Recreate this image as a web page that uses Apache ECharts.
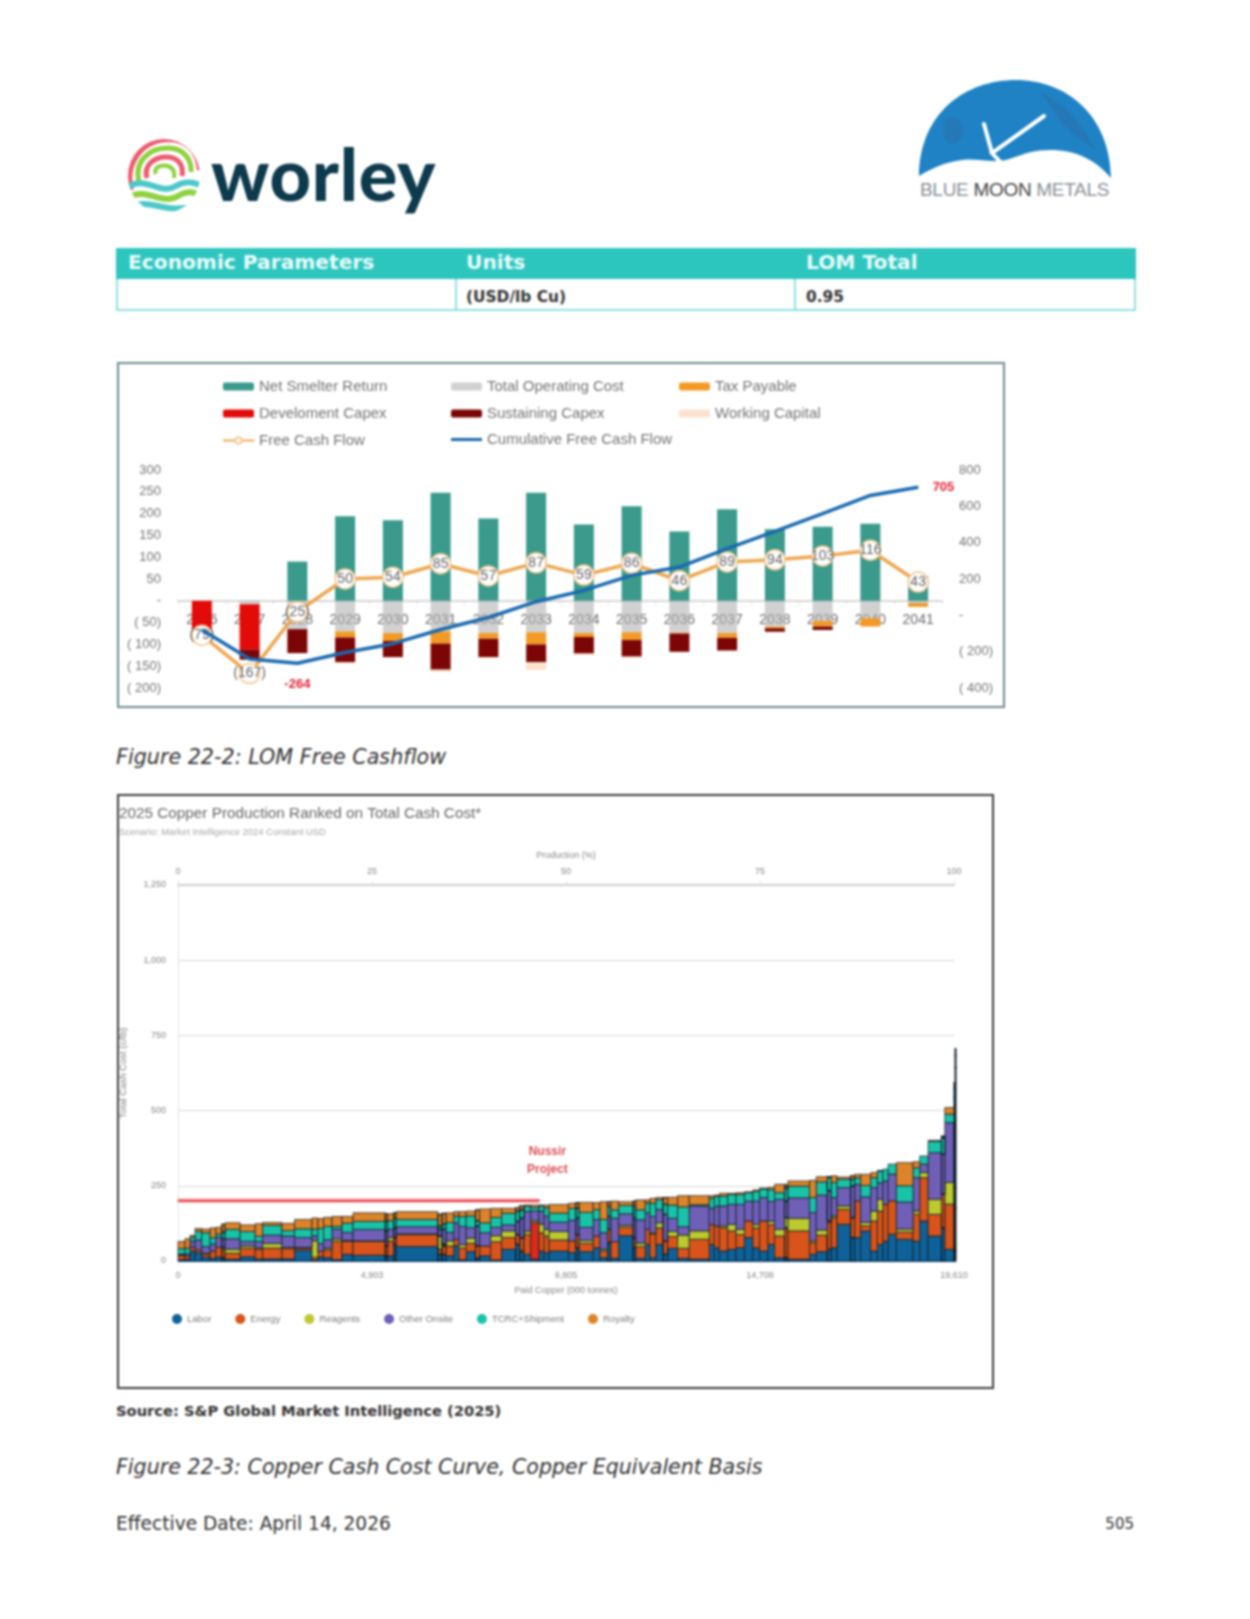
<!DOCTYPE html>
<html><head><meta charset="utf-8">
<script src="https://cdn.jsdelivr.net/npm/echarts@6/dist/echarts.min.js"></script>
<style>
html,body{margin:0;padding:0;background:#fff}
#page{position:relative;width:1250px;height:1619px;background:#fff;overflow:hidden;filter:blur(.8px);font-family:"DejaVu Sans",sans-serif}
#main{position:absolute;left:0;top:0;width:1250px;height:1619px}
.t{position:absolute;white-space:nowrap;line-height:1}
.frame{position:absolute;box-sizing:border-box}
svg{position:absolute;left:0;top:0}
.cell{position:absolute;box-sizing:border-box}
</style></head><body><div id="page">
<svg width="1250" height="330" viewBox="0 0 1250 330">
 <defs><clipPath id="g"><ellipse cx="164" cy="176" rx="36" ry="37"/></clipPath></defs>
 <g clip-path="url(#g)" fill="none">
  <rect x="120" y="130" width="90" height="90" fill="#fff" stroke="none"/>
  <path d="M131 190C124 165 140 140 168 139C188 139 198 152 200 170" stroke="#ee5a6e" stroke-width="6"/>
  <path d="M139 182C134 162 148 148 168 148C184 148 192 160 191 172" stroke="#8ed13f" stroke-width="5"/>
  <path d="M147 178C143 165 155 156 168 157C179 158 184 166 182 176" stroke="#ee5a6e" stroke-width="5"/>
  <path d="M156 174C153 168 160 164 168 166C174 168 175 173 174 178" stroke="#8ed13f" stroke-width="4"/>
  <path d="M126 188C145 174 160 196 176 186C186 180 194 182 202 186" stroke="#4cc7c9" stroke-width="6"/>
  <path d="M128 198C146 186 162 206 178 196C188 190 194 192 202 196" stroke="#8ed13f" stroke-width="6"/>
  <path d="M130 208C150 196 164 216 196 205" stroke="#4cc7c9" stroke-width="6"/>
 </g>
 <path d="M919 176C920 112 966 80 1016 80C1066 80 1110 115 1111 178C1096 160 1076 150 1050 150C1030 150 1020 156 1006 160C990 163 978 158 962 160C946 162 932 168 919 176Z" fill="#1f82c4"/>
 <path d="M1040 92C1060 100 1085 125 1095 150C1075 135 1060 125 1055 112ZM945 120C958 112 968 125 960 140C950 150 940 140 945 120Z" fill="#2a72ad" opacity=".6"/>
 <path d="M1044 116L992 153L1006 168M992 153L984 124" fill="none" stroke="#fff" stroke-width="4" stroke-linecap="round"/>
</svg>
<div class="t" style="left:211px;top:137px;font-family:Lato;font-weight:900;font-size:72px;color:#0d3a4c;letter-spacing:.8px">worley</div>
<div class="t" style="left:920px;top:180px;font-family:'Liberation Sans';font-size:19px;color:#8a8f94;letter-spacing:-.3px">BLUE <span style="color:#444">MOON</span> METALS</div>

<div class="cell" style="left:116px;top:248px;width:1020px;height:31px;background:#2dc6bf"></div>
<div class="cell" style="left:116px;top:279px;width:1020px;height:32px;border:2px solid #8fe0dc;border-top:0"></div>
<div class="cell" style="left:455px;top:279px;width:2px;height:32px;background:#8fe0dc"></div>
<div class="cell" style="left:794px;top:279px;width:2px;height:32px;background:#8fe0dc"></div>
<div class="t" style="left:128px;top:252px;font-weight:700;font-size:20.2px;color:#e9fbfa">Economic Parameters</div>
<div class="t" style="left:466px;top:252px;font-weight:700;font-size:20.2px;color:#e9fbfa">Units</div>
<div class="t" style="left:806px;top:252px;font-weight:700;font-size:20.2px;color:#e9fbfa">LOM Total</div>
<div class="t" style="left:466px;top:290px;font-weight:700;font-size:15.4px;color:#333">(USD/lb Cu)</div>
<div class="t" style="left:806px;top:290px;font-weight:700;font-size:15.4px;color:#333">0.95</div>

<div class="frame" style="left:117px;top:362px;width:888px;height:346px;border:2px solid #6d8b92"></div>
<div class="frame" style="left:117px;top:794px;width:877px;height:595px;border:2px solid #3c3c3c"></div>

<div class="t" style="left:116px;top:747px;font-style:italic;font-size:20.7px;color:#333">Figure 22-2: LOM Free Cashflow</div>
<div class="t" style="left:116px;top:1404px;font-weight:700;font-size:14.7px;color:#333">Source: S&amp;P Global Market Intelligence (2025)</div>
<div class="t" style="left:116px;top:1457px;font-style:italic;font-size:20.6px;color:#333">Figure 22-3: Copper Cash Cost Curve, Copper Equivalent Basis</div>
<div class="t" style="left:116px;top:1515px;font-size:18.6px;color:#333">Effective Date: April 14, 2026</div>
<div class="t" style="right:116px;top:1517px;font-size:15px;color:#333">505</div>
<div id="main"></div>
</div>
<script>
/* Figure 22-2 */
const years = ['2026','2027','2028','2029','2030','2031','2032','2033','2034','2035','2036','2037','2038','2039','2040','2041'];
const netSmelterReturn = [0,0,90,194,185,248,189,248,175,217,159,210,164,170,177,57];
const totalOperatingCost = [0,-8,-65,-70,-74,-70,-74,-72,-74,-72,-73,-74,-59,-46,-40,-5];
const taxPayable = [0,0,0,-14,-18,-28,-13,-28,-9,-18,-2,-11,-4,-13,-19,-9];
const developmentCapex = [-70,-104,0,0,0,0,0,0,0,0,0,0,0,0,0,0];
const sustainingCapex = [0,-23,-55,-57,-37,-60,-42,-41,-38,-38,-42,-29,-8,-8,0,0];
const workingCapital = [0,0,0,-3,-2,-5,-3,-18,-3,-3,0,0,0,0,0,0];
const freeCashFlow = [-79,-167,-25,50,54,85,57,87,59,86,46,89,94,103,116,43];
const cumulativeFreeCashFlow = [-79,-240,-264,-205,-156,-78,-12,75,137,220,266,367,462,560,660,705];
const cumulativeLabels = ['','','-264','','','','','','','','','','','','','705'];

/* Figure 22-3: one entry per mine block, left to right */
const blockWidthPct = [.90,.65,.65,.86,1.08,.73,.77,.43,1.94,1.94,.95,2.49,1.63,2.24,.77,.73,1.08,1.29,1.42,4.17,
 .30,.77,.34,5.38,.52,.52,.99,.65,.95,1.20,.52,1.42,1.42,1.81,.52,.56,.86,1.08,.65,.65,2.49,.95,.43,
 1.81,.86,.99,.43,.99,1.89,.34,1.20,.60,.77,.95,.56,1.29,1.50,2.58,.65,.65,1.08,1.08,1.08,1.08,.86,1.08,.86,1.29,
 .43,2.79,.86,1.42,.52,.73,1.76,.52,.77,1.29,.86,.73,.65,1.08,2.15,.86,1.08,1.72,.43,1.20,.13,.09];
const labor = [4,6,33,28,13,9,13,11,6,14,6,7,7,36,3,14,11,4,22,19,
 17,17,55,48,22,22,17,50,4,31,9,17,3,39,55,33,22,6,33,28,33,28,44,
 31,44,11,61,9,84,44,9,55,11,55,22,42,9,6,55,44,33,39,44,78,44,33,55,11,
 11,6,22,31,39,44,122,78,78,100,33,55,66,89,72,66,133,83,111,39,33,33];
const energy = [14,11,13,9,9,24,33,28,20,28,33,36,34,7,9,18,26,61,43,46,
 33,50,22,40,17,28,33,22,39,28,42,33,61,39,33,44,66,122,61,55,37,39,44,
 28,39,22,44,55,28,33,39,50,78,55,44,39,33,66,66,72,78,61,44,55,66,100,66,72,
 100,94,39,55,89,100,50,66,122,17,100,111,122,111,24,89,144,72,111,150,144,144];
const reagents = [2,0,0,0,4,0,0,7,13,8,4,15,4,2,55,0,6,8,3,2,
 0,11,0,2,44,6,17,0,11,17,0,0,20,22,0,0,11,6,28,22,28,0,0,
 9,0,6,0,0,6,0,11,0,4,17,0,17,44,28,0,0,6,22,17,0,11,0,11,22,
 33,42,6,17,6,6,11,0,0,11,33,39,0,0,10,11,17,50,0,72,66,66];
const otherOnsite = [3,7,20,33,22,24,33,28,35,15,22,28,38,33,17,26,28,33,27,38,
 50,28,33,24,22,50,28,55,61,35,66,44,28,20,44,66,66,33,44,44,31,69,55,
 44,55,55,44,78,39,66,78,55,55,44,89,44,28,83,55,66,66,66,83,66,78,78,66,100,
 55,68,94,116,100,61,61,105,55,85,78,55,78,89,90,111,28,155,133,199,300,400];
const tcrcShipment = [18,18,13,29,46,20,11,22,31,33,17,33,18,29,22,50,44,9,31,27,
 33,28,33,24,11,17,33,22,33,39,17,33,33,39,33,28,17,11,17,28,30,39,33,
 50,33,44,33,28,28,39,33,33,44,33,33,44,66,4,33,33,33,33,33,28,33,28,39,22,
 44,39,50,44,44,50,28,22,22,38,33,39,39,33,54,33,27,38,55,28,30,40];
const royalty = [24,32,6,9,12,33,22,26,22,22,42,9,24,31,37,33,30,33,22,28,
 24,23,17,26,39,35,32,15,16,16,36,46,30,16,12,12,4,8,3,9,29,17,18,
 33,23,59,15,29,12,17,33,10,16,7,23,26,37,30,8,4,9,4,6,3,4,3,7,28,
 10,17,57,17,2,22,7,12,11,37,17,2,0,0,77,20,0,3,5,22,20,23];
const nussirBlockIndex = 37;
const nussirLine = [[0,200],[46.6,200]];
const nussirLabelAt = [[47.6,335]];
const productionTicks = ['0','25','50','75','100'];
const paidCopperTicks = ['0','4,903','9,805','14,708','19,610'];
const costLayers = [
 ['Labor', labor, '#0f6299'],
 ['Energy', energy, '#d9541a'],
 ['Reagents', reagents, '#bcc92f'],
 ['Other Onsite', otherOnsite, '#6f5fb6'],
 ['TCRC+Shipment', tcrcShipment, '#19c3a7'],
 ['Royalty', royalty, '#dd8329']
];

const GRAY='#737373', SMALL='#858585', FONT='"Liberation Sans",Arial,sans-serif';
function paren(v){ return v===0?'-':(v<0?'( '+Math.abs(v)+')':String(v)); }

let cum=0; const starts=blockWidthPct.map(w=>{const s=cum;cum+=w;return s;});
const base=blockWidthPct.map(()=>0);
const costSeries=costLayers.map(([name,vals,color])=>{
  const data=vals.map((v,i)=>{const y0=base[i];base[i]+=v;return [starts[i],starts[i]+blockWidthPct[i],y0,y0+v,i];});
  return {type:'custom',name,coordinateSystem:'cartesian2d',xAxisIndex:1,yAxisIndex:2,itemStyle:{color},
    encode:{x:[0,1],y:[2,3]},data,clip:false,
    renderItem(params,api){
      const a=api.coord([api.value(0),api.value(3)]), b=api.coord([api.value(1),api.value(2)]);
      if(api.value(3)===api.value(2)) return null;
      const hot=name==='Energy'&&api.value(4)===nussirBlockIndex;
      const narrow=api.value(1)-api.value(0)<.6;
      return {type:'rect',shape:{x:a[0],y:a[1],width:b[0]-a[0],height:b[1]-a[1]},
        style:{fill:hot?'#dd2a1b':color,stroke:'#07151f',lineWidth:narrow?1.2:.7}};
    }};
});

const bar=(name,data,color,extra)=>Object.assign({type:'bar',name,data,stack:'cash',barWidth:20,xAxisIndex:0,yAxisIndex:0,itemStyle:{color}},extra||{});
const lg=(left,top,data,h)=>({left,top,orient:'vertical',itemWidth:31,itemHeight:h,itemGap:12,selectedMode:false,padding:0,textStyle:{color:GRAY,fontSize:15,fontFamily:FONT},data});

const chart=echarts.init(document.getElementById('main'),null,{renderer:'canvas',width:1250,height:1619});
chart.setOption({
 animation:false,backgroundColor:'transparent',textStyle:{fontFamily:FONT},
 title:[
  {text:'2025 Copper Production Ranked on Total Cash Cost*',left:119,top:806,textStyle:{fontSize:15.3,fontWeight:'normal',color:'#666',fontFamily:FONT},padding:0},
  {text:'Scenario: Market Intelligence 2024 Constant USD',left:119,top:828,textStyle:{fontSize:9.4,fontWeight:'normal',color:'#a6a6a6',fontFamily:FONT},padding:0}
 ],
 legend:[
  lg(222,379,['Net Smelter Return','Develoment Capex','Free Cash Flow'],8),
  lg(451,379,['Total Operating Cost','Sustaining Capex'],8),
  lg(451,432,[{name:'Cumulative Free Cash Flow',icon:'rect'}],3),
  lg(679,379,['Tax Payable','Working Capital'],8),
  {left:172,top:1314,itemWidth:10,itemHeight:10,itemGap:24,icon:'circle',selectedMode:false,padding:0,textStyle:{color:'#7a7a7a',fontSize:9.5,fontFamily:FONT},data:costLayers.map(c=>c[0])}
 ],
 grid:[{left:178,top:470,width:764,height:218},{left:178,top:885,width:776,height:376}],
 xAxis:[
  {type:'category',gridIndex:0,data:years,position:'bottom',axisLine:{onZero:true,onZeroAxisIndex:0,lineStyle:{color:'#d6d6d6',width:2}},axisTick:{show:true,length:3,lineStyle:{color:'#d6d6d6'}},axisLabel:{color:'#6a6a6a',fontSize:14,margin:-75,interval:0,fontFamily:FONT},splitLine:{show:false}},
  {type:'value',gridIndex:1,min:0,max:100,interval:25,position:'bottom',name:'Paid Copper (000 tonnes)',nameLocation:'middle',nameGap:25,nameTextStyle:{color:SMALL,fontSize:9,fontFamily:FONT},
   axisLine:{lineStyle:{color:'#1b6ea8',width:1}},axisTick:{show:true,length:3,lineStyle:{color:'#ddd'}},axisLabel:{color:SMALL,fontSize:9,margin:10,hideOverlap:false,formatter:v=>paidCopperTicks[v/25],fontFamily:FONT},splitLine:{show:false}},
  {type:'value',gridIndex:1,min:0,max:100,interval:25,position:'top',name:'Production (%)',nameLocation:'middle',nameGap:25,nameTextStyle:{color:SMALL,fontSize:9,fontFamily:FONT},
   axisLine:{show:true,lineStyle:{color:'#cfcfcf',width:2}},axisTick:{show:true,length:4,lineStyle:{color:'#ddd'}},axisLabel:{color:SMALL,fontSize:9,margin:9,formatter:v=>productionTicks[v/25],fontFamily:FONT},splitLine:{show:false}}
 ],
 yAxis:[
  {type:'value',gridIndex:0,position:'left',min:-200,max:300,interval:50,axisLine:{show:false},axisTick:{show:false},splitLine:{show:false},axisLabel:{color:GRAY,fontSize:13,margin:17,formatter:paren,fontFamily:FONT}},
  {type:'value',gridIndex:0,position:'right',min:-400,max:800,interval:200,axisLine:{show:false},axisTick:{show:false},splitLine:{show:false},axisLabel:{color:GRAY,fontSize:13,margin:17,formatter:paren,fontFamily:FONT}},
  {type:'value',gridIndex:1,position:'left',min:0,max:1250,interval:250,name:'Total Cash Cost (c/lb)',nameLocation:'middle',nameGap:50,nameRotate:90,nameTextStyle:{color:'#7a7a7a',fontSize:9.5,fontFamily:FONT},
   axisLine:{show:true,lineStyle:{color:'#e2e2e2'}},axisTick:{show:false},splitLine:{show:true,lineStyle:{color:'#d6d6d6',width:1}},axisLabel:{color:SMALL,fontSize:9,margin:12,formatter:v=>v.toLocaleString('en-US'),fontFamily:FONT}}
 ],
 series:[
  bar('Net Smelter Return',netSmelterReturn,'#3a9a8c'),
  bar('Total Operating Cost',totalOperatingCost,'rgba(178,178,178,.6)'),
  bar('Tax Payable',taxPayable,'#f39a26'),
  bar('Develoment Capex',developmentCapex,'#e30a0a'),
  bar('Sustaining Capex',sustainingCapex,'#7c0606'),
  bar('Working Capital',workingCapital,'#fbe3cf'),
  {type:'line',name:'Free Cash Flow',data:freeCashFlow,xAxisIndex:0,yAxisIndex:0,z:4,symbol:'circle',symbolSize:20,showAllSymbol:true,
   lineStyle:{color:'#efa64e',width:3.5},itemStyle:{color:'#fff',borderColor:'#f4c690',borderWidth:1.5},
   label:{show:true,position:'inside',color:'#5f5f5f',fontSize:14,fontFamily:FONT,formatter:p=>p.value<0?'('+Math.abs(p.value)+')':String(p.value)}},
  {type:'line',name:'Cumulative Free Cash Flow',xAxisIndex:0,yAxisIndex:1,z:5,symbol:'none',
   lineStyle:{color:'#1a69b0',width:3.5},itemStyle:{color:'#1a69b0'},
   data:cumulativeFreeCashFlow.map((v,i)=>{
     const t=cumulativeLabels[i];
     if(!t) return v;
     return {value:v,symbol:'circle',symbolSize:1,label:{show:true,position:i===2?'bottom':'right',distance:14,color:'#e01f35',fontWeight:'bold',fontSize:13,fontFamily:FONT,formatter:t}};
   })},
  ...costSeries,
  {type:'line',name:'Nussir line',data:nussirLine,xAxisIndex:1,yAxisIndex:2,z:6,symbol:'none',lineStyle:{color:'#e8414a',width:2.5,shadowBlur:3,shadowColor:'rgba(240,110,110,.6)'}},
  {type:'scatter',name:'Nussir label',data:nussirLabelAt,xAxisIndex:1,yAxisIndex:2,z:6,symbolSize:1,itemStyle:{color:'transparent'},
   label:{show:true,position:'inside',formatter:'Nussir\nProject',color:'#cf1f27',fontWeight:'bold',fontSize:12,lineHeight:18,fontFamily:FONT}}
 ]
});
</script></body></html>
